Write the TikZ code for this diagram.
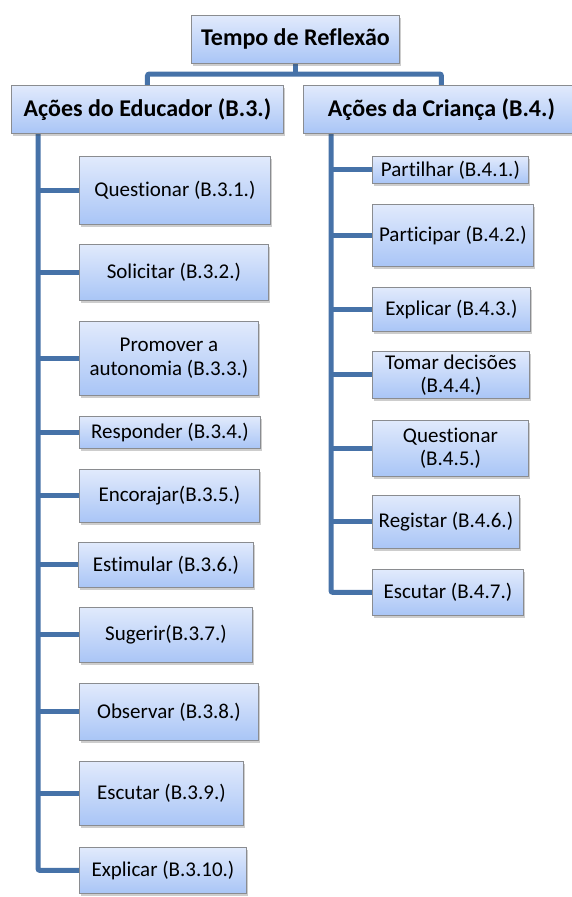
\documentclass[tikz,border=0pt]{standalone}
\usepackage{fontspec}
\setmainfont[Ligatures=NoCommon]{Carlito}
\usetikzlibrary{shadows,backgrounds}
\definecolor{linkblue}{HTML}{4672A8}
\definecolor{boxtop}{HTML}{E1EAFC}
\definecolor{boxbottom}{HTML}{A9C5F6}
\definecolor{boxedge}{HTML}{8A8C90}
\tikzset{
  card/.style={draw=boxedge, line width=0.9pt, top color=boxtop, bottom color=boxbottom,
    inner sep=0pt, align=center, anchor=north west,
    drop shadow={shadow xshift=1.5pt, shadow yshift=-3pt, opacity=0.28, fill=black!70}},
  headcard/.style={card, font=\fontsize{24}{26}\selectfont\bfseries},
  itemcard/.style={card, font=\fontsize{21}{23.5}\selectfont},
  conn/.style={draw=linkblue, line width=5pt, rounded corners=2pt}
}
\begin{document}
\begin{tikzpicture}[x=1pt, y=-1pt]
\useasboundingbox (0,0) rectangle (571,897);

% headings
\node[headcard, minimum width=208, minimum height=48] (top) at (191,15) {Tempo de Reflexão};
\node[headcard, minimum width=272, minimum height=48] (ed) at (11,85) {Ações do Educador (B.3.)};
\node[headcard, minimum width=276, minimum height=48] (cr) at (303,85) {Ações da Criança (B.4.)};

% educator actions
\node[itemcard, minimum width=191, minimum height=68] (b1) at (79,156) {Questionar (B.3.1.)};
\node[itemcard, minimum width=189, minimum height=56] (b2) at (79,244) {Solicitar (B.3.2.)};
\node[itemcard, minimum width=179, minimum height=74] (b3) at (79,321) {Promover a\\autonomia (B.3.3.)};
\node[itemcard, minimum width=181, minimum height=32] (b4) at (79,416) {Responder (B.3.4.)};
\node[itemcard, minimum width=180, minimum height=53] (b5) at (79,469) {Encorajar(B.3.5.)};
\node[itemcard, minimum width=175, minimum height=45] (b6) at (78,542) {Estimular (B.3.6.)};
\node[itemcard, minimum width=173, minimum height=55] (b7) at (79,607) {Sugerir(B.3.7.)};
\node[itemcard, minimum width=179, minimum height=57] (b8) at (79,683) {Observar (B.3.8.)};
\node[itemcard, minimum width=164, minimum height=64] (b9) at (79,761) {Escutar (B.3.9.)};
\node[itemcard, minimum width=167, minimum height=46] (b10) at (79,847) {Explicar (B.3.10.)};

% child actions
\node[itemcard, minimum width=156, minimum height=27] (c1) at (372,156) {Partilhar (B.4.1.)};
\node[itemcard, minimum width=161, minimum height=62] (c2) at (372,204) {Participar (B.4.2.)};
\node[itemcard, minimum width=158, minimum height=44] (c3) at (372,287) {Explicar (B.4.3.)};
\node[itemcard, minimum width=157, minimum height=47] (c4) at (372,351) {Tomar decisões\\(B.4.4.)};
\node[itemcard, minimum width=156, minimum height=56] (c5) at (372,420) {Questionar\\(B.4.5.)};
\node[itemcard, minimum width=147, minimum height=53] (c6) at (372,495) {Registar (B.4.6.)};
\node[itemcard, minimum width=151, minimum height=46] (c7) at (372,569) {Escutar (B.4.7.)};

% trunk start points
\coordinate (tl) at (38,133);
\coordinate (tr) at (331,133);
\coordinate (bar) at (0,74);

\begin{pgfonlayer}{background}
  % top level links
  \draw[conn, rounded corners=0pt] (top.south) -- (top.south |- bar);
  \draw[conn] (ed.north) |- (top.south |- bar) -| (cr.north);
  % trunks
  \draw[conn] (tl) |- (b10.west);
  \draw[conn] (tr) |- (c7.west);
  % branches
  \foreach \n in {b1,b2,b3,b4,b5,b6,b7,b8,b9}
    \draw[conn, rounded corners=0pt] (tl |- \n.west) -- (\n.west);
  \foreach \n in {c1,c2,c3,c4,c5,c6}
    \draw[conn, rounded corners=0pt] (tr |- \n.west) -- (\n.west);
\end{pgfonlayer}
\end{tikzpicture}
\end{document}
